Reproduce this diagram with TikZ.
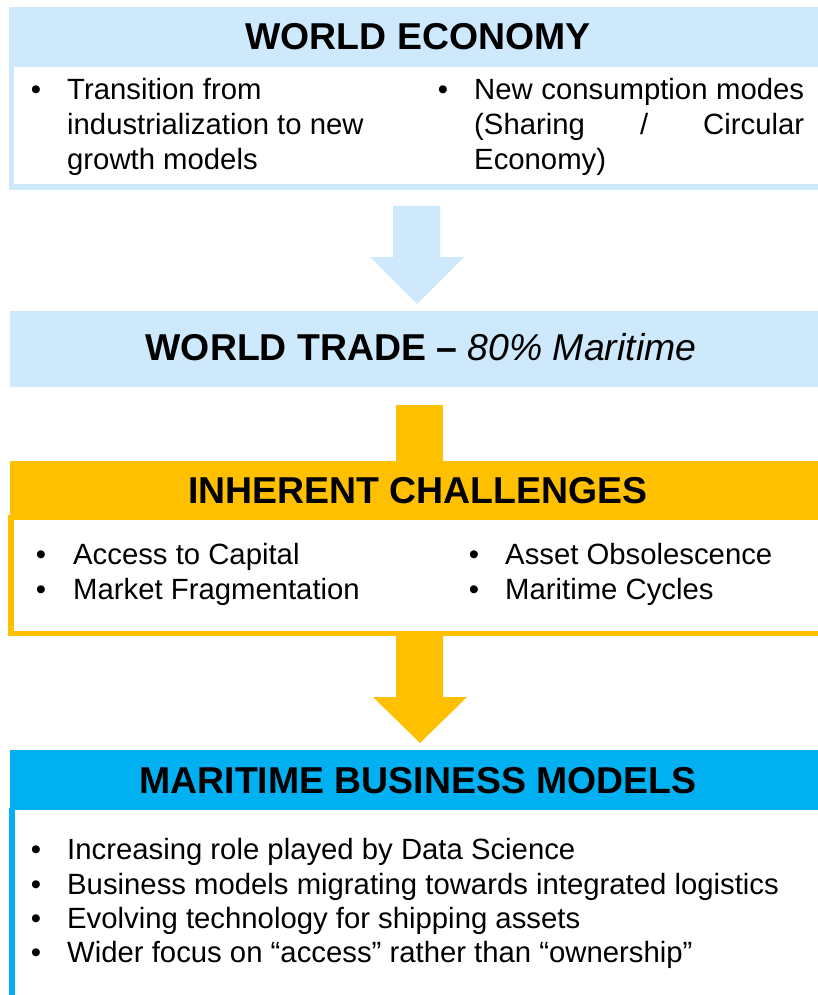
\documentclass[tikz,border=0pt]{standalone}
\usepackage{fontspec}
\setmainfont{Liberation Sans}
\definecolor{skyblue}{HTML}{CDE9FB}
\definecolor{amber}{HTML}{FFC000}
\definecolor{cyanblue}{HTML}{00B0F0}
\begin{document}
\begin{tikzpicture}[x=1pt,y=-1pt,
  heading/.style={font=\fontsize{37.4}{44}\selectfont\bfseries, anchor=base, inner sep=0pt},
  item/.style={font=\fontsize{29.3}{35}\selectfont, anchor=base west, inner sep=0pt},
  dot/.style={font=\fontsize{29.3}{35}\selectfont, anchor=base, inner sep=0pt},
]
\useasboundingbox (0,0) rectangle (818,995);

% --- World economy panel
\fill[skyblue] (9,7) rectangle (818,190);
\fill[white] (14,67) rectangle (818,184);
\node[heading] (ecoTitle) at (418,50) {WORLD ECONOMY};
\node[dot] (ecoB1) at (36,100) {•};
\node[item] (ecoL1) at (67,100) {Transition from};
\node[item] (ecoL2) at (67,135) {industrialization to new};
\node[item] (ecoL3) at (67,170) {growth models};
\node[dot] (ecoB2) at (443,100) {•};
\node[item] (ecoR1) at (474,100) {\makebox[330pt][s]{New consumption modes}};
\node[item] (ecoR2) at (474,135) {\makebox[330pt][s]{(Sharing / Circular}};
\node[item] (ecoR3) at (474,170) {Economy)};

% --- arrow into world trade
\fill[skyblue] (393,206) -- (440,206) -- (440,257) -- (464,257) -- (417,304)
  -- (370,257) -- (393,257) -- cycle;

% --- World trade panel
\fill[skyblue] (10,311) rectangle (818,387);
\node[heading] (tradeTitle) at (421,360) {WORLD TRADE – \textit{\mdseries 80\% Maritime}};

% --- stem into the challenges panel
\fill[amber] (396,405) rectangle (443,462);

% --- Inherent challenges panel
\fill[amber] (10,461) rectangle (818,520);
\fill[amber] (8,515) rectangle (818,636);
\fill[white] (14,520) rectangle (818,631);
\node[heading] (chalTitle) at (418,503) {INHERENT CHALLENGES};
\node[dot] (chB1) at (41,564) {•};
\node[item] (chL1) at (73,564) {Access to Capital};
\node[dot] (chB2) at (41,599) {•};
\node[item] (chL2) at (73,599) {Market Fragmentation};
\node[dot] (chB3) at (474,564) {•};
\node[item] (chR1) at (505,564) {Asset Obsolescence};
\node[dot] (chB4) at (474,599) {•};
\node[item] (chR2) at (505,599) {Maritime Cycles};

% --- arrow into business models
\fill[amber] (396,635) -- (443,635) -- (443,697) -- (467,697) -- (420,743)
  -- (373,697) -- (396,697) -- cycle;

% --- Maritime business models panel
\fill[cyanblue] (10,750) rectangle (818,810);
\fill[cyanblue] (9,808) rectangle (15,995);
\node[heading] (bizTitle) at (418,793) {MARITIME BUSINESS MODELS};
\node[dot] (bzB1) at (36,859) {•};
\node[item] (bz1) at (67,859) {Increasing role played by Data Science};
\node[dot] (bzB2) at (36,894) {•};
\node[item] (bz2) at (67,894) {Business models migrating towards integrated logistics};
\node[dot] (bzB3) at (36,928) {•};
\node[item] (bz3) at (67,928) {Evolving technology for shipping assets};
\node[dot] (bzB4) at (36,962) {•};
\node[item] (bz4) at (67,962) {Wider focus on “access” rather than “ownership”};
\end{tikzpicture}
\end{document}
